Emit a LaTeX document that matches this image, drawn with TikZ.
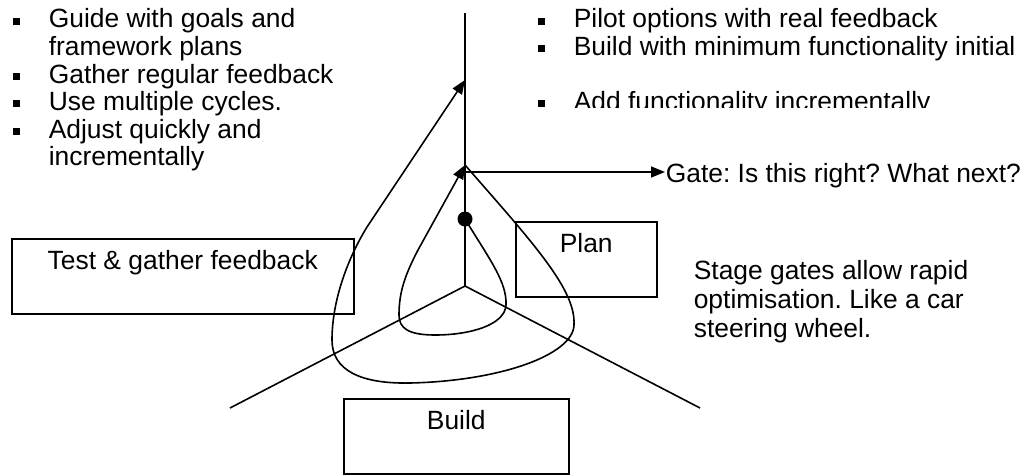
\documentclass[tikz,border=0pt]{standalone}
\usepackage{fontspec}
\setmainfont{Liberation Sans}
\usetikzlibrary{arrows.meta}
\newcommand{\blt}{\makebox[36pt][l]{\rule[3.4pt]{7pt}{7pt}}}
\frenchspacing

\begin{document}
\begin{tikzpicture}[x=1pt, y=-1pt, line width=1.6pt,
	every node/.style={font=\fontsize{26.4}{27.6}\selectfont, inner sep=0pt},
	box/.style={draw, line width=1.5pt, text height=31pt, text depth=44pt},
	tip/.style={-{Triangle[length=14pt,width=11pt]}}]
			%%%%% START %%%%%
			\useasboundingbox (0,0) rectangle (1028,474);
			
			% axes
			\coordinate (o) at (465,286);
			\coordinate (top) at (465,13);
			\coordinate (lend) at (230,408);
			\coordinate (rend) at (700,408);
			\draw (o) -- (top);
			\draw (o) -- (lend);
			\draw (o) -- (rend);
			
			% spiral
			\coordinate (dot) at (465,219);
			\coordinate (gate) at (465,165);
			\coordinate (gl) at (466,172);
			\coordinate (va) at (465,80);
			\fill (dot) circle (7.5);
			\draw[tip] (dot) .. controls (490,260) and (507,282) .. (506,305)
				.. controls (505,325) and (470,335) .. (435,335)
				.. controls (408,335) and (399,328) .. (399,315)
				.. controls (399,292) and (405,275) .. (418,250) -- (gate);
			\draw[tip] (gate) .. controls (535,245) and (576,290) .. (574,325)
				.. controls (573,355) and (500,381) .. (410,383)
				.. controls (360,384) and (332,370) .. (332,340)
				.. controls (332,300) and (348,258) .. (367,227) -- (va);
			
			% boxes
			\node[box, minimum width=342pt, anchor=north west] (test) at (11,238) {Test \& gather feedback};
			\node[box, minimum width=141pt, anchor=north west] (plan) at (515,221) {Plan};
			\node[box, minimum width=225pt, anchor=north west] (build) at (343,398) {Build};
			
			% texts
			\node[align=left, anchor=north west] (lst) at (12,8) {\blt Guide with goals and\\
				\hspace*{36pt}framework plans\\
				\blt Gather regular feedback\\
				\blt Use multiple cycles.\\
				\blt Adjust quickly and\\
				\hspace*{36pt}incrementally};
			\node[align=left, anchor=north west] (rlst) at (537,8) {\blt Pilot options with real feedback\\
				\blt Build with minimum functionality initial};
			\begin{scope}
				\clip (0,0) rectangle (1028,107);
				\node[anchor=base west] (add) at (537,110) {\blt Add functionality incrementally};
			\end{scope}
			\node[align=left, anchor=north west, font=\fontsize{26.4}{29}\selectfont] (stage) at (693,260)
				{Stage gates allow rapid\\optimisation. Like a car\\steering wheel.};
			\node[anchor=base west] (gatetxt) at (665,182) {Gate: Is this right? What next?};
			\draw[tip] (gl) -- (gl -| gatetxt.west);
			
			%%%%% END %%%%%
\end{tikzpicture}
\end{document}
